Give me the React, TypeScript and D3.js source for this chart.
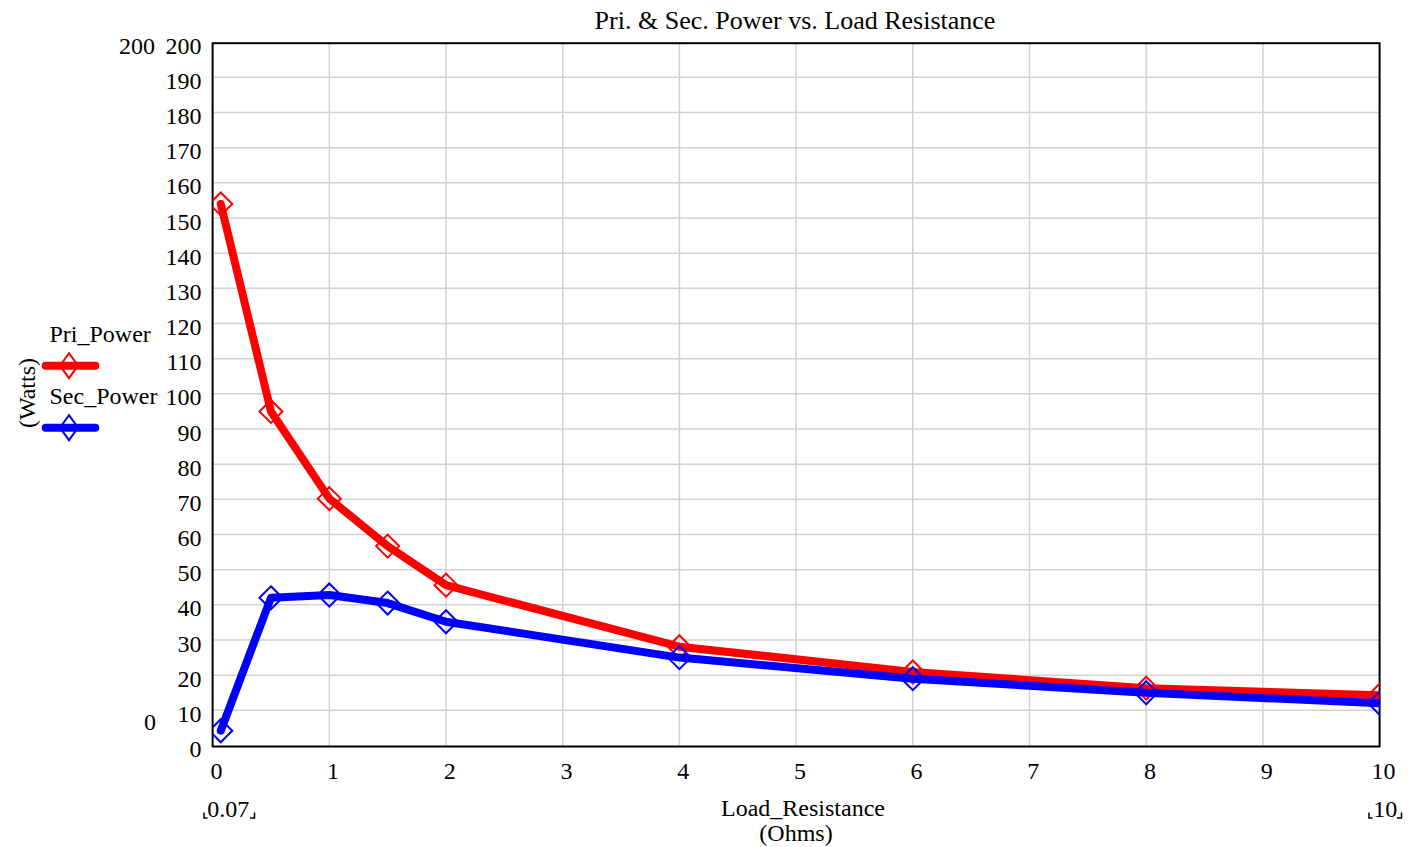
import React from "react";
import * as d3 from "d3";

const loadResistance = [0.07, 0.5, 1, 1.5, 2, 4, 6, 8, 10];
const priPower = [154, 95, 70.2, 56.7, 45.6, 28.1, 20.9, 16.3, 14.3];
const secPower = [4.2, 42, 42.8, 40.5, 35.2, 25, 19, 15, 12];
const xTicks = [0, 1, 2, 3, 4, 5, 6, 7, 8, 9, 10];
const yTicks = d3.range(0, 201, 10);

const series = [
  { name: "Pri_Power", values: priPower, color: "#ff0000" },
  { name: "Sec_Power", values: secPower, color: "#0000ff" },
];

const FONT = "'Liberation Serif', 'Times New Roman', serif";
const FS = 24;

export default function App() {
  const x = d3.scaleLinear().domain([0, 10]).range([212.6, 1379.6]);
  const y = d3.scaleLinear().domain([0, 200]).range([745.5, 42.2]);
  const line = d3
    .line<[number, number]>()
    .x((d) => x(d[0]))
    .y((d) => y(d[1]));
  const diamond = (cx: number, cy: number, hw: number, hh: number) =>
    `M${cx},${cy - hh}L${cx + hw},${cy}L${cx},${cy + hh}L${cx - hw},${cy}Z`;

  const [x0, x1] = x.range();
  const [yb, yt] = y.range();

  return (
    <div style={{ position: "fixed", left: 0, top: 0 }}>
      <svg width={1409} height={847} style={{ display: "block", fontFamily: FONT }}>
        <rect width={1409} height={847} fill="#fff" />
        <defs>
          <clipPath id="plotclip">
            <rect x={x0} y={yt - 15} width={x1 - x0} height={yb - yt + 30} />
          </clipPath>
        </defs>
        {/* grid */}
        {xTicks.slice(1, -1).map((t) => (
          <line key={"gx" + t} x1={x(t)} x2={x(t)} y1={yt} y2={yb} stroke="#d2d2d2" strokeWidth={1.5} />
        ))}
        {yTicks.slice(1, -1).map((t) => (
          <line key={"gy" + t} x1={x0} x2={x1} y1={y(t)} y2={y(t)} stroke="#d2d2d2" strokeWidth={1.5} />
        ))}
        {/* frame */}
        <rect x={x0} y={yt + 1} width={x1 - x0} height={yb - yt} fill="none" stroke="#000" strokeWidth={2} />
        {/* title */}
        <text x={795} y={28.5} textAnchor="middle" fontSize={26} fill="#000">
          Pri. &amp; Sec. Power vs. Load Resistance
        </text>
        {/* y tick labels */}
        {yTicks.map((t) => (
          <text key={"yl" + t} x={201.5} y={y(t) + 11.5} textAnchor="end" fontSize={FS} fill="#000">
            {t}
          </text>
        ))}
        <text x={155} y={y(200) + 11.5} textAnchor="end" fontSize={FS} fill="#000">200</text>
        <text x={156} y={730} textAnchor="end" fontSize={FS} fill="#000">0</text>
        {/* x tick labels */}
        {xTicks.map((t) => (
          <text key={"xl" + t} x={x(t) + 3.8} y={778.5} textAnchor="middle" fontSize={FS} fill="#000">
            {t}
          </text>
        ))}
        {/* axis titles */}
        <text x={803} y={816} textAnchor="middle" fontSize={FS} fill="#000">Load_Resistance</text>
        <text x={796} y={840.5} textAnchor="middle" fontSize={FS} fill="#000">(Ohms)</text>
        <text transform="translate(35,393) rotate(-90)" textAnchor="middle" fontSize={FS} fill="#000">(Watts)</text>
        {/* range markers */}
        <text x={228.3} y={816.5} textAnchor="middle" fontSize={FS} fill="#000">0.07</text>
        <path d="M204,812.5V818H207.5" fill="none" stroke="#000" strokeWidth={1.5} />
        <path d="M250,818H254.5V812.5" fill="none" stroke="#000" strokeWidth={1.5} />
        <text x={1385.3} y={816.5} textAnchor="middle" fontSize={FS} fill="#000">10</text>
        <path d="M1369,812.5V818H1372.5" fill="none" stroke="#000" strokeWidth={1.5} />
        <path d="M1397,818H1401.5V812.5" fill="none" stroke="#000" strokeWidth={1.5} />
        {/* series */}
        <g clipPath="url(#plotclip)">
          {series.map((s) => {
            const pts = loadResistance.map((r, i) => [r, s.values[i]] as [number, number]);
            return (
              <g key={s.name}>
                {pts.map((p, i) => (
                  <path key={i} d={diamond(x(p[0]), y(p[1]), 11.5, 11.5)} fill="none" stroke={s.color} strokeWidth={2} />
                ))}
                <path d={line(pts) || ""} fill="none" stroke={s.color} strokeWidth={8} strokeLinecap="round" strokeLinejoin="round" />
              </g>
            );
          })}
        </g>
        {/* legend */}
        {series.map((s, i) => {
          const ly = 365.7 + i * 62;
          return (
            <g key={"lg" + s.name}>
              <text x={49.5} y={341.7 + i * 62.3} fontSize={FS} fill="#000">{s.name}</text>
              <line x1={45.7} x2={95.3} y1={ly} y2={ly} stroke={s.color} strokeWidth={8} strokeLinecap="round" />
              <path d={diamond(69, ly, 9, 12.5)} fill="none" stroke={s.color} strokeWidth={2} />
            </g>
          );
        })}
      </svg>
    </div>
  );
}
